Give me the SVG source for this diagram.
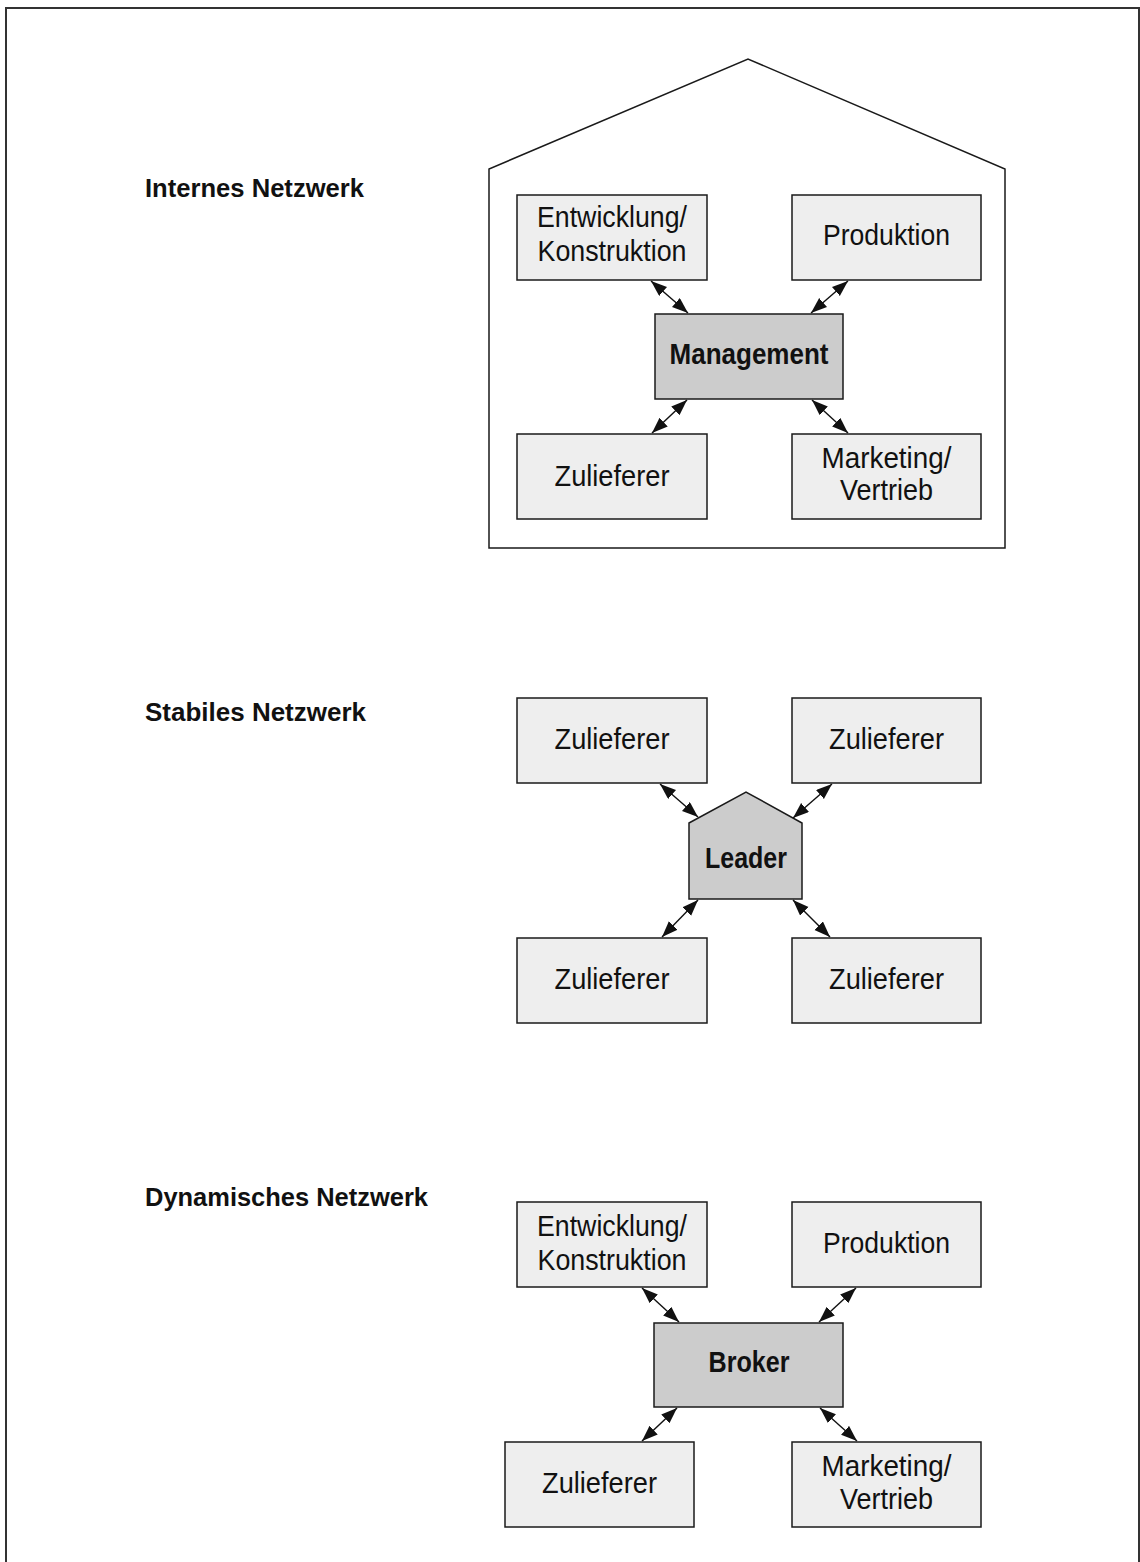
<svg xmlns="http://www.w3.org/2000/svg" width="1140" height="1562" viewBox="0 0 1140 1562">
  <style>
    .frame { fill: none; stroke: #333333; stroke-width: 2; }
    .house { fill: #ffffff; stroke: #1a1a1a; stroke-width: 1.5; }
    .box { fill: #eeeeee; stroke: #1a1a1a; stroke-width: 1.5; }
    .core { fill: #cccccc; stroke: #1a1a1a; stroke-width: 1.5; }
    .lbl { font-family: "Liberation Sans", Arial, sans-serif; font-size: 30px; fill: #111111; text-anchor: middle; }
    .bold { font-weight: bold; }
    .title { font-family: "Liberation Sans", Arial, sans-serif; font-size: 25px; font-weight: bold; fill: #111111; }
    .link { stroke: #111111; stroke-width: 1.4; fill: none; marker-start: url(#head); marker-end: url(#head); }
  </style>
  <defs>
    <marker id="head" markerUnits="userSpaceOnUse" markerWidth="17" markerHeight="13" refX="16" refY="6" orient="auto-start-reverse">
      <path d="M0,0 L16,6 L0,12 Z" fill="#111111"/>
    </marker>
  </defs>

  <rect width="1140" height="1562" fill="#ffffff"/>
  <path class="frame" d="M6,1562 V8 H1139 V1562"/>

  <!-- section titles -->
  <text class="title" x="145" y="197" textLength="219" lengthAdjust="spacingAndGlyphs">Internes Netzwerk</text>
  <text class="title" x="145" y="721" textLength="221" lengthAdjust="spacingAndGlyphs">Stabiles Netzwerk</text>
  <text class="title" x="145" y="1206" textLength="283" lengthAdjust="spacingAndGlyphs">Dynamisches Netzwerk</text>

  <!-- internal network: the company as a house -->
  <g id="house">
    <path class="house" d="M489,548 V169 L748,59 L1005,169 V548 Z"/>
  </g>
  <g id="int-entwicklung">
    <rect class="box" x="517" y="195" width="190" height="85"/>
    <text class="lbl" x="612" y="227" textLength="150" lengthAdjust="spacingAndGlyphs">Entwicklung/</text>
    <text class="lbl" x="612" y="261" textLength="149" lengthAdjust="spacingAndGlyphs">Konstruktion</text>
  </g>
  <g id="int-produktion">
    <rect class="box" x="792" y="195" width="189" height="85"/>
    <text class="lbl" x="886.5" y="245" textLength="127" lengthAdjust="spacingAndGlyphs">Produktion</text>
  </g>
  <g id="int-management">
    <rect class="core" x="655" y="314" width="188" height="85"/>
    <text class="lbl bold" x="749" y="364" textLength="159" lengthAdjust="spacingAndGlyphs">Management</text>
  </g>
  <g id="int-zulieferer">
    <rect class="box" x="517" y="434" width="190" height="85"/>
    <text class="lbl" x="612" y="486" textLength="115" lengthAdjust="spacingAndGlyphs">Zulieferer</text>
  </g>
  <g id="int-marketing">
    <rect class="box" x="792" y="434" width="189" height="85"/>
    <text class="lbl" x="886.5" y="468" textLength="130" lengthAdjust="spacingAndGlyphs">Marketing/</text>
    <text class="lbl" x="886.5" y="500" textLength="93" lengthAdjust="spacingAndGlyphs">Vertrieb</text>
  </g>

  <!-- stable network around a leader -->
  <g id="st-zulieferer-1">
    <rect class="box" x="517" y="698" width="190" height="85"/>
    <text class="lbl" x="612" y="749" textLength="115" lengthAdjust="spacingAndGlyphs">Zulieferer</text>
  </g>
  <g id="st-zulieferer-2">
    <rect class="box" x="792" y="698" width="189" height="85"/>
    <text class="lbl" x="886.5" y="749" textLength="115" lengthAdjust="spacingAndGlyphs">Zulieferer</text>
  </g>
  <g id="st-leader">
    <path class="core" d="M689,823 L746,792 L802,823 V899 H689 Z"/>
    <text class="lbl bold" x="746" y="868" textLength="82" lengthAdjust="spacingAndGlyphs">Leader</text>
  </g>
  <g id="st-zulieferer-3">
    <rect class="box" x="517" y="938" width="190" height="85"/>
    <text class="lbl" x="612" y="989" textLength="115" lengthAdjust="spacingAndGlyphs">Zulieferer</text>
  </g>
  <g id="st-zulieferer-4">
    <rect class="box" x="792" y="938" width="189" height="85"/>
    <text class="lbl" x="886.5" y="989" textLength="115" lengthAdjust="spacingAndGlyphs">Zulieferer</text>
  </g>

  <!-- dynamic network around a broker -->
  <g id="dy-entwicklung">
    <rect class="box" x="517" y="1202" width="190" height="85"/>
    <text class="lbl" x="612" y="1236" textLength="150" lengthAdjust="spacingAndGlyphs">Entwicklung/</text>
    <text class="lbl" x="612" y="1270" textLength="149" lengthAdjust="spacingAndGlyphs">Konstruktion</text>
  </g>
  <g id="dy-produktion">
    <rect class="box" x="792" y="1202" width="189" height="85"/>
    <text class="lbl" x="886.5" y="1253" textLength="127" lengthAdjust="spacingAndGlyphs">Produktion</text>
  </g>
  <g id="dy-broker">
    <rect class="core" x="654" y="1323" width="189" height="84"/>
    <text class="lbl bold" x="749" y="1372" textLength="81" lengthAdjust="spacingAndGlyphs">Broker</text>
  </g>
  <g id="dy-zulieferer">
    <rect class="box" x="505" y="1442" width="189" height="85"/>
    <text class="lbl" x="599.5" y="1493" textLength="115" lengthAdjust="spacingAndGlyphs">Zulieferer</text>
  </g>
  <g id="dy-marketing">
    <rect class="box" x="792" y="1442" width="189" height="85"/>
    <text class="lbl" x="886.5" y="1476" textLength="130" lengthAdjust="spacingAndGlyphs">Marketing/</text>
    <text class="lbl" x="886.5" y="1509" textLength="93" lengthAdjust="spacingAndGlyphs">Vertrieb</text>
  </g>

  <!-- two-way links -->
  <g id="connectors">
    <line class="link" x1="651" y1="281" x2="688" y2="313"/>
    <line class="link" x1="848" y1="281" x2="811" y2="313"/>
    <line class="link" x1="687" y1="400" x2="652" y2="433"/>
    <line class="link" x1="812" y1="400" x2="848" y2="433"/>

    <line class="link" x1="660" y1="784" x2="698" y2="817"/>
    <line class="link" x1="832" y1="784" x2="793" y2="818"/>
    <line class="link" x1="698" y1="900" x2="662" y2="937"/>
    <line class="link" x1="793" y1="900" x2="830" y2="937"/>

    <line class="link" x1="642" y1="1288" x2="679" y2="1322"/>
    <line class="link" x1="856" y1="1288" x2="819" y2="1322"/>
    <line class="link" x1="677" y1="1408" x2="642" y2="1441"/>
    <line class="link" x1="820" y1="1408" x2="857" y2="1441"/>
  </g>
</svg>
